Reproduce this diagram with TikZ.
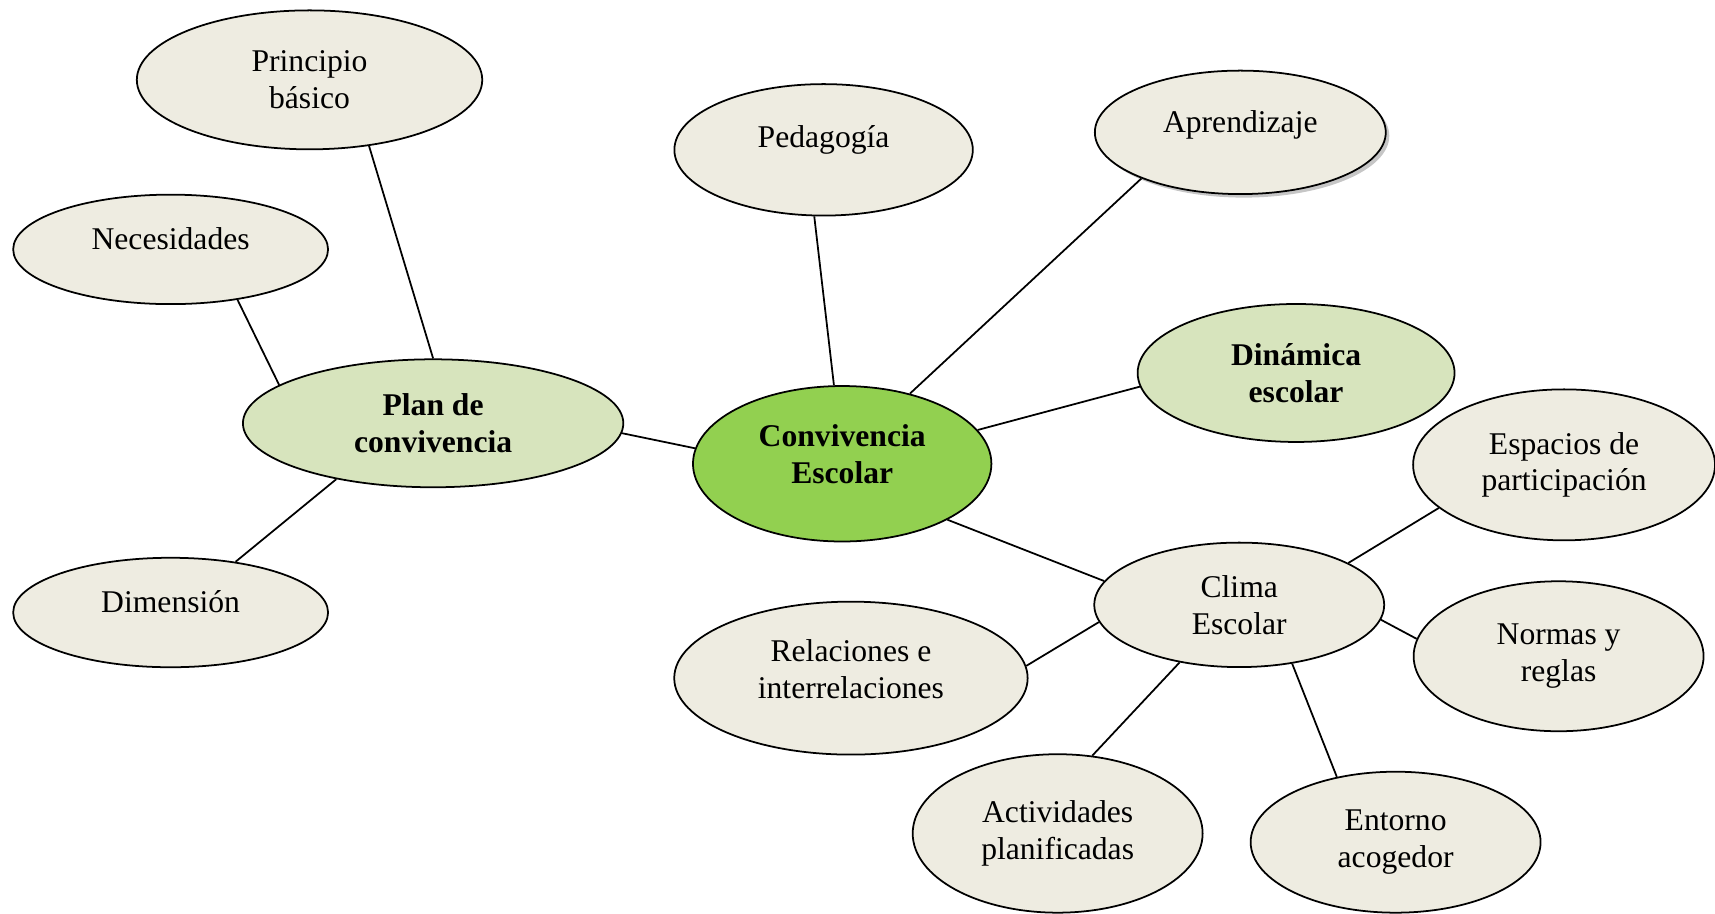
\documentclass[tikz,border=0pt]{standalone}
\usepackage{fontspec}
\setmainfont{Liberation Serif}
\usetikzlibrary{shapes.geometric,shadows}

\definecolor{beige}{HTML}{EEECE1}
\definecolor{lightgreen}{HTML}{D7E4BD}
\definecolor{maingreen}{HTML}{92D050}

\tikzset{
  bubble/.style={ellipse, draw=black, line width=1pt, fill=beige, inner sep=0pt,
    align=center, font=\fontsize{18}{21}\selectfont},
  keybubble/.style={bubble, fill=lightgreen, font=\fontsize{18}{21}\selectfont\bfseries},
  lift/.style={text depth=0.45cm},
  link/.style={draw, line width=1pt}
}

\begin{document}
\begin{tikzpicture}[x=0.021876cm, y=-0.021876cm]
\clip (0,0) rectangle (1568,835);
\useasboundingbox (0,0) rectangle (1568,835);

% left cluster
\node [bubble, minimum width=6.91cm, minimum height=2.78cm] (principio) at (283,73) {Principio\\básico};
\node [bubble, lift, minimum width=6.30cm, minimum height=2.19cm] (necesidades) at (156,228) {Necesidades};
\node [keybubble, minimum width=7.61cm, minimum height=2.56cm] (plan) at (396,387) {Plan de\\convivencia};
\node [bubble, lift, minimum width=6.30cm, minimum height=2.19cm] (dimension) at (156,560) {Dimensión};

% centre
\node [bubble, fill=maingreen, font=\fontsize{18}{21}\selectfont\bfseries, text depth=0.4cm,
  minimum width=5.97cm, minimum height=3.11cm] (convivencia) at (770,424) {Convivencia\\Escolar};
\node [bubble, lift, text depth=0.55cm, minimum width=5.97cm, minimum height=2.63cm] (pedagogia) at (753,137) {Pedagogía};
\node [bubble, lift, minimum width=5.82cm, minimum height=2.47cm,
  drop shadow={opacity=0.45, shadow xshift=2pt, shadow yshift=-2pt}] (aprendizaje) at (1134,121) {Aprendizaje};
\node [keybubble, minimum width=6.34cm, minimum height=2.76cm] (dinamica) at (1185,341) {Dinámica\\escolar};

% right cluster
\node [bubble, minimum width=5.80cm, minimum height=2.49cm] (clima) at (1133,553) {Clima\\Escolar};
\node [bubble, minimum width=6.04cm, minimum height=3.02cm] (espacios) at (1430,425) {Espacios de\\participación};
\node [bubble, minimum width=5.80cm, minimum height=3.00cm] (normas) at (1425,600) {Normas y\\reglas};
\node [bubble, text depth=0.36cm, minimum width=7.07cm, minimum height=3.06cm] (relaciones) at (778,620) {Relaciones e\\interrelaciones};
\node [bubble, minimum width=5.80cm, minimum height=3.17cm] (actividades) at (967,762) {Actividades\\planificadas};
\node [bubble, minimum width=5.80cm, minimum height=2.82cm] (entorno) at (1276,770) {Entorno\\acogedor};

\path [link]
(principio.-48) edge (plan.90)
(necesidades.-37) edge (plan.166)
(dimension.38) edge (plan.210)
(plan.-3) edge (convivencia.174)
(pedagogia.262) edge (convivencia.96)
(aprendizaje.205) edge (convivencia.46)
(dinamica.185) edge (convivencia.14)
(convivencia.-28) edge (clima.170)
(clima.21) edge (espacios.199)
(clima.-6) edge (normas.173)
(clima.187) edge (relaciones.4)
(clima.224) edge (actividades.66)
(clima.-48) edge (entorno.132);
\end{tikzpicture}
\end{document}
